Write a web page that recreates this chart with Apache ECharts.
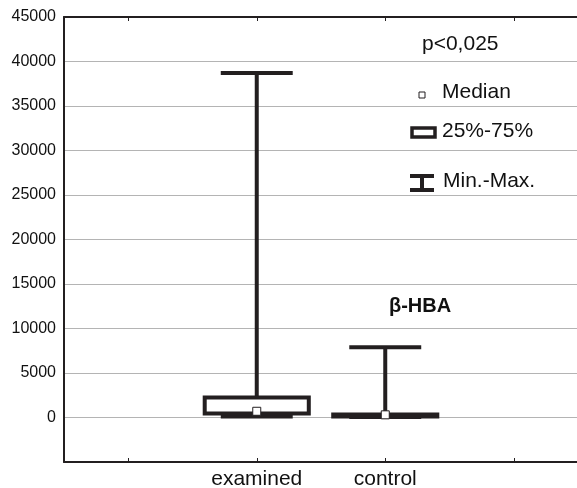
<!DOCTYPE html>
<html>
<head>
<meta charset="utf-8">
<script src="https://cdn.jsdelivr.net/npm/echarts@6/dist/echarts.min.js"></script>
<style>
html, body { margin: 0; padding: 0; background: #fff; }
#chart { width: 577px; height: 488px; }
</style>
</head>
<body>
<div id="chart"></div>
<script>
// categories on the x axis (the outer two are empty slots)
var categories = ['', 'examined', 'control', ''];
var groupIndex = [1, 2];
// statistics per group
var minVals = [100, 50];
var q1Vals = [450, 100];
var medianVals = [700, 300];
var q3Vals = [2250, 350];
var maxVals = [38700, 7900];
var yTicks = [-5000, 0, 5000, 10000, 15000, 20000, 25000, 30000, 35000, 40000, 45000];

var ink = '#231f20';
var font = 'Arial, "Liberation Sans", sans-serif';

var boxData = groupIndex.map(function (c, i) {
    return [c, minVals[i], q1Vals[i], medianVals[i], q3Vals[i], maxVals[i]];
});

function renderBox(params, api) {
    var cat = api.value(0);
    function pt(v) { return api.coord([cat, v]); }
    var pMin = pt(api.value(1)), pQ1 = pt(api.value(2)), pMed = pt(api.value(3)),
        pQ3 = pt(api.value(4)), pMax = pt(api.value(5));
    var x = pMax[0];
    var band = api.size([1, 0])[0];
    var bw = band * 0.81, cw = band * 0.56;
    var lineStyle = { stroke: ink, lineWidth: 4 };
    return {
        type: 'group',
        children: [
            { type: 'line', shape: { x1: x, y1: pMax[1], x2: x, y2: pQ3[1] }, style: lineStyle },
            { type: 'line', shape: { x1: x, y1: pQ1[1], x2: x, y2: pMin[1] }, style: lineStyle },
            { type: 'line', shape: { x1: x - cw / 2, y1: pMax[1], x2: x + cw / 2, y2: pMax[1] }, style: lineStyle },
            { type: 'line', shape: { x1: x - cw / 2, y1: pMin[1], x2: x + cw / 2, y2: pMin[1] }, style: lineStyle },
            { type: 'rect', shape: { x: x - bw / 2, y: pQ3[1], width: bw, height: pQ1[1] - pQ3[1] },
              style: { fill: '#fff', stroke: ink, lineWidth: 4 } },
            { type: 'rect', shape: { x: x - 4, y: pMed[1] - 4, width: 8, height: 8 },
              style: { fill: '#fff', stroke: ink, lineWidth: 1 } }
        ]
    };
}

var chart = echarts.init(document.getElementById('chart'));
chart.setOption({
    animation: false,
    backgroundColor: '#fff',
    grid: { left: 64, top: 17, right: -1, bottom: 26, containLabel: false, outerBoundsMode: 'none' },
    xAxis: [{
        type: 'category',
        data: categories,
        position: 'bottom',
        axisLine: { onZero: false, lineStyle: { color: ink, width: 2 } },
        axisTick: { show: true, inside: true, length: 4, alignWithLabel: true, lineStyle: { color: ink } },
        axisLabel: { color: '#111', fontSize: 21, fontFamily: font, margin: 7 },
        splitLine: { show: false }
    }, {
        type: 'category',
        data: categories,
        position: 'top',
        axisLine: { onZero: false, lineStyle: { color: ink, width: 2 } },
        axisTick: { show: true, inside: true, length: 4, alignWithLabel: true, lineStyle: { color: ink } },
        axisLabel: { show: false },
        splitLine: { show: false }
    }],
    yAxis: {
        type: 'value',
        min: yTicks[0],
        max: yTicks[yTicks.length - 1],
        interval: 5000,
        axisLine: { show: true, lineStyle: { color: ink, width: 2 } },
        axisTick: { show: false },
        axisLabel: {
            color: '#111', fontSize: 16, fontFamily: font, margin: 8,
            formatter: function (v) { return v < 0 ? '' : String(v); }
        },
        splitLine: { lineStyle: { color: '#b4b4b4', width: 1 } }
    },
    series: [{
        type: 'custom',
        xAxisIndex: 0,
        renderItem: renderBox,
        encode: { x: 0, y: [1, 2, 3, 4, 5] },
        data: boxData,
        z: 5
    }],
    graphic: [
        { type: 'text', left: 422, top: 34, style: { text: 'p<0,025', font: '21px ' + font, fill: '#111' } },
        { type: 'rect', shape: { x: 419, y: 92, width: 6, height: 6 }, style: { fill: '#fff', stroke: ink, lineWidth: 1 } },
        { type: 'text', left: 442, top: 82, style: { text: 'Median', font: '21px ' + font, fill: '#111' } },
        { type: 'rect', shape: { x: 412, y: 128, width: 23, height: 9 }, style: { fill: '#fff', stroke: ink, lineWidth: 3.5 } },
        { type: 'text', left: 442, top: 121, style: { text: '25%-75%', font: '21px ' + font, fill: '#111' } },
        { type: 'line', shape: { x1: 410, y1: 176, x2: 434, y2: 176 }, style: { stroke: ink, lineWidth: 4 } },
        { type: 'line', shape: { x1: 422, y1: 176, x2: 422, y2: 190 }, style: { stroke: ink, lineWidth: 4 } },
        { type: 'line', shape: { x1: 410, y1: 190, x2: 434, y2: 190 }, style: { stroke: ink, lineWidth: 4 } },
        { type: 'text', left: 443, top: 171, style: { text: 'Min.-Max.', font: '21px ' + font, fill: '#111' } },
        { type: 'text', left: 389, top: 296, style: { text: 'β-HBA', font: 'bold 20px ' + font, fill: '#111' } }
    ]
});
</script>
</body>
</html>
